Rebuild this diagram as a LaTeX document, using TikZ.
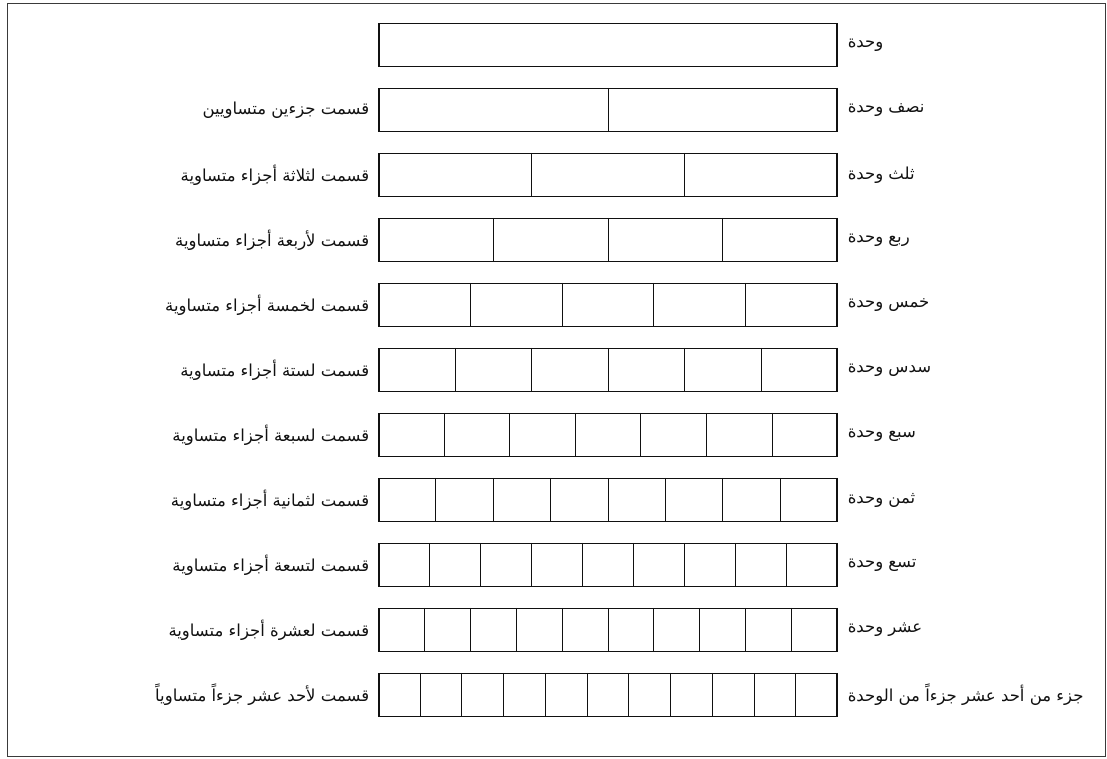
\documentclass[tikz,border=0pt]{standalone}
\usepackage{fontspec}
\newfontfamily\arabicfont[Script=Arabic]{DejaVu Sans}
\TeXXeTstate=1
\usepackage{xcolor}
\usepackage{tikz}
\usetikzlibrary{calc,positioning}
\definecolor{inkc}{HTML}{111111}
\definecolor{framec}{HTML}{3A3A3A}
\tikzset{
  bar/.style={draw=inkc,line width=1.1pt,minimum width=458pt,minimum height=43pt,inner sep=0pt},
  lbl/.style={font=\arabicfont\fontsize{16.5}{19}\selectfont,inner sep=0pt,text=inkc},
  divl/.style={line width=0.9pt,inkc}
}

\begin{document}
\begin{tikzpicture}[x=1pt,y=-1pt]
\useasboundingbox (0,0) rectangle (1107,758);
\draw[framec,line width=0.8pt] (7,3) rectangle (1105,756);
\node[bar] (bar1) at (608,45) {};
\node[lbl,right=10pt of bar1] (rt1) {\beginR وحدة\endR};
\foreach \n/\tr/\tl [count=\c from 2] in {
  2/{نصف وحدة}/{قسمت جزءين متساويين},
  3/{ثلث وحدة}/{قسمت لثلاثة أجزاء متساوية},
  4/{ربع وحدة}/{قسمت لأربعة أجزاء متساوية},
  5/{خمس وحدة}/{قسمت لخمسة أجزاء متساوية},
  6/{سدس وحدة}/{قسمت لستة أجزاء متساوية},
  7/{سبع وحدة}/{قسمت لسبعة أجزاء متساوية},
  8/{ثمن وحدة}/{قسمت لثمانية أجزاء متساوية},
  9/{تسع وحدة}/{قسمت لتسعة أجزاء متساوية},
  10/{عشر وحدة}/{قسمت لعشرة أجزاء متساوية},
  11/{جزء من أحد عشر جزءاً من الوحدة}/{قسمت لأحد عشر جزءاً متساوياً}}{
  \node[bar] (bar\c) at (608,{45+65*(\c-1)}) {};
  \node[lbl,right=10pt of bar\c] (rt\c) {\beginR\tr\endR};
  \node[lbl,left=9pt of bar\c] (lt\c) {\beginR\tl\endR};
  \foreach \k in {1,...,\n}
    \draw[divl] ($(bar\c.north west)!{\k/\n}!(bar\c.north east)$) -- ($(bar\c.south west)!{\k/\n}!(bar\c.south east)$);
}
\end{tikzpicture}
\end{document}
